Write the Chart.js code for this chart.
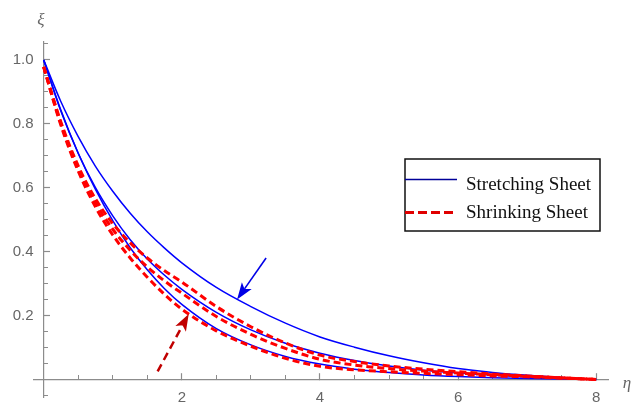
<!DOCTYPE html>
<html>
<head>
<meta charset="utf-8">
<script src="https://cdn.jsdelivr.net/npm/chart.js@4.4.1/dist/chart.umd.min.js"></script>
<style>
  body { margin: 0; background: #fff; }
  #wrap { position: relative; width: 638px; height: 402px; }
</style>
</head>
<body>
<div id="wrap"><canvas id="grafico" width="638" height="402"></canvas></div>
<script>
// valores
var eta = [0, 0.25, 0.5, 0.75, 1, 1.25, 1.5, 1.75, 2, 2.5, 3, 3.5, 4, 4.5, 5, 5.5, 6, 6.5, 7, 7.5, 8];

var stretch1 = [1, 0.869, 0.76, 0.667, 0.589, 0.521, 0.462, 0.411, 0.365, 0.288, 0.228, 0.176, 0.133, 0.101, 0.074, 0.052, 0.034, 0.022, 0.013, 0.006, 0];
var stretch2 = [1, 0.839, 0.708, 0.60, 0.512, 0.438, 0.377, 0.326, 0.282, 0.21, 0.155, 0.113, 0.082, 0.059, 0.042, 0.029, 0.02, 0.013, 0.0075, 0.0035, 0];
var stretch3 = [1, 0.842, 0.708, 0.595, 0.497, 0.413, 0.343, 0.284, 0.235, 0.159, 0.108, 0.072, 0.048, 0.032, 0.0215, 0.014, 0.009, 0.0055, 0.003, 0.0013, 0];

var shrink1 = [0.978, 0.805, 0.668, 0.565, 0.488, 0.428, 0.38, 0.34, 0.305, 0.228, 0.165, 0.114, 0.076, 0.056, 0.042, 0.032, 0.024, 0.017, 0.011, 0.005, 0];
var shrink2 = [0.978, 0.80, 0.66, 0.553, 0.47, 0.405, 0.352, 0.308, 0.27, 0.197, 0.141, 0.097, 0.063, 0.045, 0.034, 0.026, 0.02, 0.015, 0.01, 0.005, 0];
var shrink3 = [0.978, 0.795, 0.652, 0.54, 0.452, 0.381, 0.32, 0.266, 0.22, 0.152, 0.104, 0.066, 0.041, 0.03, 0.024, 0.019, 0.015, 0.011, 0.008, 0.004, 0];

var xTicks = [2, 4, 6, 8];
var yTicks = [0.2, 0.4, 0.6, 0.8, 1.0];
var legendLabels = ['Stretching Sheet', 'Shrinking Sheet'];

// setas: [inicio, ponta] em coordenadas (eta, xi)
var blueArrow = [[3.22, 0.38], [2.8, 0.25]];
var redArrow = [[1.65, 0.025], [2.1, 0.205]];

function pts(arr) {
    var out = [];
    for (let i = 0; i < eta.length; i++) {
        out.push({x: eta[i], y: arr[i]});
    }
    return out;
}

function serie(arr, red) {
    return {
        data: pts(arr),
        borderColor: red ? '#ff0000' : '#0000ff',
        borderWidth: red ? 3 : 1.5,
        borderDash: red ? [7, 4] : [],
        pointRadius: 0,
        cubicInterpolationMode: 'monotone',
        fill: false,
        order: red ? 0 : 1
    };
}

function minorTicks(from, to, step, skip) {
    var t = [];
    for (let v = from; v <= to + 1e-9; v += step) {
        var r = Math.round(v * 1000) / 1000;
        if (skip.indexOf(r) < 0) t.push({value: r});
    }
    return t;
}

function zeroSize(s) {
    if (s.isHorizontal()) s.height = 0; else s.width = 0;
    s.paddingLeft = 0; s.paddingRight = 0; s.paddingTop = 0; s.paddingBottom = 0;
}

var axisGray = '#8c8c8c';
var tickFont = {family: 'Liberation Sans', size: 15};

var decor = {
    id: 'decor',
    afterDatasetsDraw: function (chart) {
        var ctx = chart.ctx;
        var sx = chart.scales.x, sy = chart.scales.y;

        function arrow(a, color, dash) {
            var x0 = sx.getPixelForValue(a[0][0]), y0 = sy.getPixelForValue(a[0][1]);
            var x1 = sx.getPixelForValue(a[1][0]), y1 = sy.getPixelForValue(a[1][1]);
            var ang = Math.atan2(y1 - y0, x1 - x0);
            var hl = 17, hw = 6;
            var bx = x1 - hl * Math.cos(ang), by = y1 - hl * Math.sin(ang);
            ctx.save();
            ctx.strokeStyle = color;
            ctx.fillStyle = color;
            ctx.lineWidth = dash.length ? 2.5 : 1.6;
            ctx.setLineDash(dash);
            ctx.beginPath();
            ctx.moveTo(x0, y0);
            ctx.lineTo(bx + 4 * Math.cos(ang), by + 4 * Math.sin(ang));
            ctx.stroke();
            ctx.setLineDash([]);
            ctx.beginPath();
            ctx.moveTo(x1, y1);
            ctx.lineTo(bx + hw * Math.sin(ang), by - hw * Math.cos(ang));
            ctx.lineTo(bx + 4 * Math.cos(ang), by + 4 * Math.sin(ang));
            ctx.lineTo(bx - hw * Math.sin(ang), by + hw * Math.cos(ang));
            ctx.closePath();
            ctx.fill();
            ctx.restore();
        }
        arrow(blueArrow, '#0000e6', []);
        arrow(redArrow, '#c00000', [8, 5]);
    },
    afterDraw: function (chart) {
        var ctx = chart.ctx;
        ctx.save();
        // rotulos dos eixos
        ctx.fillStyle = '#666';
        ctx.font = 'italic 17px "Liberation Serif"';
        ctx.textAlign = 'center';
        ctx.textBaseline = 'alphabetic';
        ctx.fillText('\u03BE', 41, 25);
        ctx.fillText('\u03B7', 627, 388);

        // legenda
        var lx = 405, ly = 159, lw = 195, lh = 72;
        ctx.fillStyle = '#fff';
        ctx.fillRect(lx, ly, lw, lh);
        ctx.strokeStyle = '#111';
        ctx.lineWidth = 1.5;
        ctx.strokeRect(lx, ly, lw, lh);

        ctx.strokeStyle = '#000099';
        ctx.lineWidth = 1.5;
        ctx.beginPath();
        ctx.moveTo(lx, 179.5);
        ctx.lineTo(457, 179.5);
        ctx.stroke();

        ctx.strokeStyle = '#e00000';
        ctx.lineWidth = 3;
        ctx.setLineDash([9, 4]);
        ctx.beginPath();
        ctx.moveTo(lx, 212.5);
        ctx.lineTo(454, 212.5);
        ctx.stroke();
        ctx.setLineDash([]);

        ctx.fillStyle = '#111';
        ctx.font = '19px "Liberation Serif"';
        ctx.textAlign = 'left';
        ctx.fillText(legendLabels[0], 466, 189.5);
        ctx.fillText(legendLabels[1], 466, 218);
        ctx.restore();
    }
};

var ctx = document.getElementById('grafico');

var myChart = new Chart(ctx, {
    type: 'line',
    data: {
        datasets: [
            serie(shrink1, true),
            serie(shrink2, true),
            serie(shrink3, true),
            serie(stretch1, false),
            serie(stretch2, false),
            serie(stretch3, false)
        ]
    },
    options: {
        responsive: false,
        animation: false,
        layout: {
            padding: {left: 0, right: 30, top: 42, bottom: 5}
        },
        plugins: {
            legend: {display: false},
            tooltip: {enabled: false}
        },
        scales: {
            x: {
                type: 'linear', axis: 'x', min: -0.14, max: 8.17, position: {y: 0},
                afterBuildTicks: function (s) { s.ticks = xTicks.map(v => ({value: v})); },
                afterFit: zeroSize,
                grid: {drawOnChartArea: false, tickLength: -7, tickColor: axisGray, tickWidth: 1.2},
                border: {color: axisGray, width: 1.2},
                ticks: {padding: 16, color: '#666', font: tickFont}
            },
            xMinor: {
                type: 'linear', axis: 'x', min: -0.14, max: 8.17, position: {y: 0},
                afterBuildTicks: function (s) { s.ticks = minorTicks(0.5, 7.5, 0.5, xTicks); },
                afterFit: zeroSize,
                grid: {drawOnChartArea: false, tickLength: -4, tickColor: axisGray, tickWidth: 1},
                border: {display: false},
                ticks: {display: false}
            },
            y: {
                type: 'linear', axis: 'y', min: -0.055, max: 1.056, position: {x: 0},
                afterBuildTicks: function (s) { s.ticks = yTicks.map(v => ({value: v})); },
                afterFit: zeroSize,
                grid: {drawOnChartArea: false, tickLength: -7, tickColor: axisGray, tickWidth: 1.2},
                border: {color: axisGray, width: 1.2},
                ticks: {display: false}
            },
            yLabels: {
                type: 'linear', axis: 'y', min: -0.055, max: 1.056, position: 'left',
                afterBuildTicks: function (s) { s.ticks = yTicks.map(v => ({value: v})); },
                afterFit: function (s) {
                    s.width = 34;
                    s.paddingTop = 0; s.paddingBottom = 0;
                },
                grid: {display: false, drawTicks: false},
                border: {display: false},
                ticks: {padding: 0.5, color: '#666', font: tickFont,
                    callback: function (v) { return v.toFixed(1); }}
            },
            yMinor: {
                type: 'linear', axis: 'y', min: -0.055, max: 1.056, position: {x: 0},
                afterBuildTicks: function (s) { s.ticks = minorTicks(-0.05, 1.05, 0.05, yTicks.concat([0])); },
                afterFit: zeroSize,
                grid: {drawOnChartArea: false, tickLength: -4, tickColor: axisGray, tickWidth: 1},
                border: {display: false},
                ticks: {display: false}
            }
        }
    },
    plugins: [decor]
});
</script>
</body>
</html>
